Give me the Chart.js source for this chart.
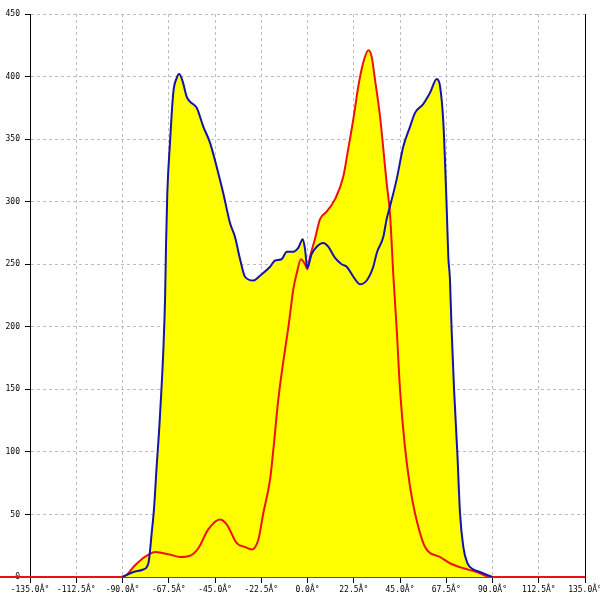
<!DOCTYPE html>
<html>
<head>
<meta charset="utf-8">
<script src="https://cdn.jsdelivr.net/npm/chart.js@4"></script>
<style>
html,body{margin:0;padding:0;background:#fff;}
#wrap{width:600px;height:600px;}
</style>
</head>
<body>
<div id="wrap"><canvas id="c" width="600" height="600"></canvas></div>
<script>
const blueX = [-90, -84.7, -79.9, -77.4, -75.8, -74.7, -73.4, -71.8, -69.3, -68.8, -68.2, -66.9, -65.3, -63.6, -62.4, -60.7, -58.8, -57.2, -53.9, -50.7, -47.4, -44.2, -41.0, -37.7, -35.3, -32.8, -30.4, -26.4, -22.3, -18.2, -15.8, -12.6, -10.1, -6.9, -4.5, -2.3, -1.2, -0.1, 2.0, 4.5, 7.7, 10.1, 13.4, 16.6, 19.1, 22.3, 25.5, 28.8, 32.0, 33.7, 36.9, 38.5, 40.1, 43.4, 46.6, 49.9, 52.3, 56.3, 59.6, 62.9, 64.5, 66.1, 67.7, 68.5, 69.3, 70.1, 71.3, 72.9, 74.2, 75.8, 77.8, 80.7, 83.9, 90];
const blueY = [0, 4, 6, 11, 35, 54, 88, 128, 222, 267, 307, 347, 387, 399, 402, 396, 384, 380, 375, 360, 347, 328, 307, 283, 272, 254, 240, 237, 242, 248, 253, 254, 260, 260, 263, 270, 262, 247, 258, 264, 267, 264, 255, 250, 248, 240, 234, 237, 248, 259, 272, 286, 296, 318, 344, 360, 371, 378, 387, 398, 392, 363, 296, 256, 238, 198, 150, 99, 51, 24, 11, 6, 4, 0];

const redX = [-150, -135, -112.5, -91, -88, -84.7, -81.5, -78.2, -74.2, -70.2, -66, -62, -57.2, -53.1, -48.3, -42.6, -39.3, -34.4, -30.4, -27.1, -23.9, -21.5, -18.2, -16.6, -14.2, -8.8, -6.9, -5.2, -3.2, -1.2, -0.1, 1.2, 3.6, 6.1, 9.3, 13.4, 17.4, 19.8, 22.3, 24.7, 27.1, 29.6, 31.2, 32.8, 35.3, 36.9, 38.5, 40.1, 41.8, 43.4, 45, 47.4, 49.9, 52.3, 57.2, 64.5, 69.3, 75.8, 82.3, 88.8, 112.5, 135, 150];
const redY = [0, 0, 0, 0, 1.6, 8, 13, 17, 20, 19, 17.5, 16, 17, 23, 38, 46, 42, 27, 24, 22, 30, 51, 78, 102, 142, 206, 230, 243, 254, 250, 246, 256, 270, 286, 292, 302, 320, 342, 366, 392, 411, 421, 416, 398, 368, 342, 315, 291, 240, 198, 150, 104, 72, 51, 24, 16, 11, 7, 4, 0, 0, 0, 0];

const xTickLabels = ['-135.0Â°', '-112.5Â°', '-90.0Â°', '-67.5Â°', '-45.0Â°', '-22.5Â°', '0.0Â°', '22.5Â°', '45.0Â°', '67.5Â°', '90.0Â°', '112.5Â°', '135.0Â°'];
const yTickLabels = ['0', '50', '100', '150', '200', '250', '300', '350', '400', '450'];

const toPts = (xs, ys) => xs.map((x, i) => ({x: x, y: ys[i]}));
const tickFont = {family: 'DejaVu Sans Mono', size: 8};

new Chart(document.getElementById('c'), {
  type: 'line',
  data: {
    datasets: [
      {
        label: 'blue',
        data: toPts(blueX, blueY),
        borderColor: '#1414a8',
        backgroundColor: '#ffff00',
        borderWidth: 2,
        fill: 'origin',
        pointRadius: 0,
        cubicInterpolationMode: 'monotone'
      },
      {
        label: 'red',
        data: toPts(redX, redY),
        borderColor: '#ee1111',
        backgroundColor: '#ffff00',
        borderWidth: 2,
        fill: 'origin',
        pointRadius: 0,
        clip: false,
        cubicInterpolationMode: 'monotone'
      }
    ]
  },
  options: {
    responsive: false,
    animation: false,
    parsing: true,
    layout: {padding: {top: 14, right: 15, left: 0, bottom: 0}},
    plugins: {
      legend: {display: false},
      tooltip: {enabled: false},
      filler: {drawTime: 'beforeDatasetsDraw'}
    },
    scales: {
      x: {
        type: 'linear',
        min: -135,
        max: 135,
        ticks: {
          stepSize: 22.5,
          autoSkip: false,
          maxRotation: 0,
          font: tickFont,
          color: '#000',
          padding: 2,
          callback: (v, i) => xTickLabels[i]
        },
        grid: {color: '#bdbdbd', tickColor: '#000', tickLength: 6, lineWidth: 1},
        border: {color: '#ee1111', width: 2, dash: [3, 3]},
        afterFit: s => { s.height = 23; s.paddingLeft = 0; s.paddingRight = 0; }
      },
      y: {
        min: 0,
        max: 450,
        ticks: {
          stepSize: 50,
          font: tickFont,
          color: '#000',
          padding: 5,
          callback: (v, i) => yTickLabels[i]
        },
        grid: {color: '#bdbdbd', tickColor: '#000', tickLength: 5, lineWidth: 1},
        border: {color: '#000', width: 1, dash: [3, 3]},
        afterFit: s => { s.width = 30; s.paddingTop = 0; s.paddingBottom = 0; }
      },
      y2: {
        position: 'right',
        min: 0,
        max: 450,
        ticks: {display: false},
        grid: {display: false},
        border: {color: '#000', width: 1},
        afterFit: s => { s.width = 0; s.paddingTop = 0; s.paddingBottom = 0; }
      }
    }
  }
});
</script>
</body>
</html>
